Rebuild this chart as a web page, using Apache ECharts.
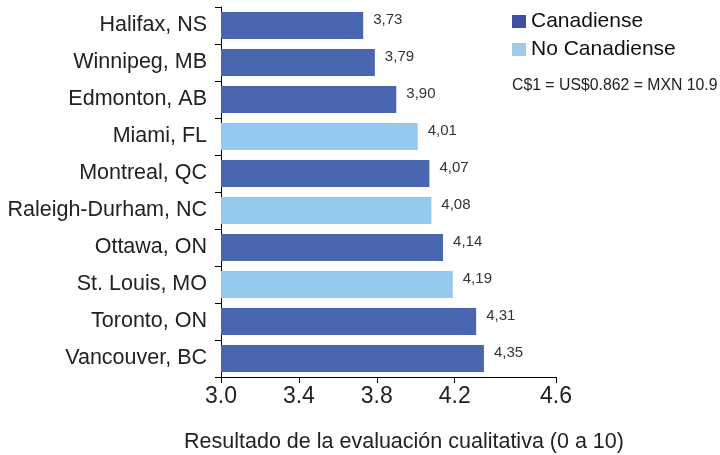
<!DOCTYPE html>
<html>
<head>
<meta charset="utf-8">
<script src="https://cdn.jsdelivr.net/npm/echarts@6/dist/echarts.min.js"></script>
<style>html,body{margin:0;padding:0;background:#fff}#c{width:720px;height:455px}</style>
</head>
<body>
<div id="c"></div>
<script>
var categories = ['Halifax, NS','Winnipeg, MB','Edmonton, AB','Miami, FL','Montreal, QC','Raleigh-Durham, NC','Ottawa, ON','St. Louis, MO','Toronto, ON','Vancouver, BC'];
var canadienseValues = [3.73, 3.79, 3.90, null, 4.07, null, 4.14, null, 4.31, 4.35];
var noCanadienseValues = [null, null, null, 4.01, null, 4.08, null, 4.19, null, null];
var tickValues = [3.0, 3.4, 3.8, 4.2, 4.72];
var tickLabels = ['3.0','3.4','3.8','4.2','4.6'];
var seriesNames = ['Canadiense','No Canadiense'];
var note = 'C$1 = US$0.862 = MXN 10.9';
var xTitle = 'Resultado de la evaluación cualitativa (0 a 10)';

var FONT = '"Liberation Sans", Arial, sans-serif';
var chart = echarts.init(document.getElementById('c'), null, {renderer: 'canvas'});
var valueLabel = {
  show: true, position: 'right', distance: 10, offset: [0, -6],
  fontFamily: FONT, fontSize: 15, color: '#333',
  formatter: function (p) { return p.value == null ? '' : p.value.toFixed(2).replace('.', ','); }
};
function tickText(v) {
  for (var i = 0; i < tickValues.length; i++) {
    if (Math.abs(tickValues[i] - v) < 1e-6) return tickLabels[i];
  }
  return '';
}
chart.setOption({
  animation: false,
  textStyle: {fontFamily: FONT},
  grid: {left: 221, top: 7, width: 335, height: 370, containLabel: false, outerBoundsMode: 'none'},
  legend: {
    orient: 'vertical', left: 512, top: 11, padding: 0, itemWidth: 14, itemHeight: 13, itemGap: 7,
    icon: 'rect',
    textStyle: {fontFamily: FONT, fontSize: 21, color: '#111'},
    data: [
      {name: seriesNames[0], itemStyle: {color: '#3d51a0'}},
      {name: seriesNames[1], itemStyle: {color: '#a2cbea'}}
    ]
  },
  graphic: [{
    type: 'text', left: 512, top: 78,
    style: {text: note, fontFamily: FONT, fontSize: 15.8, fill: '#222'}
  }],
  xAxis: {
    type: 'value', min: 3, max: 4.72,
    axisLine: {show: true, lineStyle: {color: '#000', width: 1}},
    axisTick: {show: true, length: 6, lineStyle: {color: '#000'}, customValues: tickValues},
    splitLine: {show: false},
    axisLabel: {
      fontFamily: FONT, fontSize: 23, color: '#222', margin: 8,
      customValues: tickValues,
      showMinLabel: true, showMaxLabel: true,
      formatter: function (v) { return tickText(v); }
    },
    name: xTitle, nameLocation: 'middle', nameGap: 54,
    nameTextStyle: {fontFamily: FONT, fontSize: 21.5, color: '#222', padding: [0, 0, 0, 31]}
  },
  yAxis: {
    type: 'category', data: categories, inverse: true,
    axisLine: {show: true, lineStyle: {color: '#000', width: 1}},
    axisTick: {show: true, length: 6, lineStyle: {color: '#000'}},
    axisLabel: {fontFamily: FONT, fontSize: 21.5, color: '#222', margin: 14}
  },
  series: [
    {name: seriesNames[0], type: 'bar', data: canadienseValues, barWidth: 27, barGap: '-100%',
     itemStyle: {color: '#4a66b0'}, label: valueLabel},
    {name: seriesNames[1], type: 'bar', data: noCanadienseValues, barWidth: 27, barGap: '-100%',
     itemStyle: {color: '#95c9ee'}, label: valueLabel}
  ]
});
</script>
</body>
</html>
